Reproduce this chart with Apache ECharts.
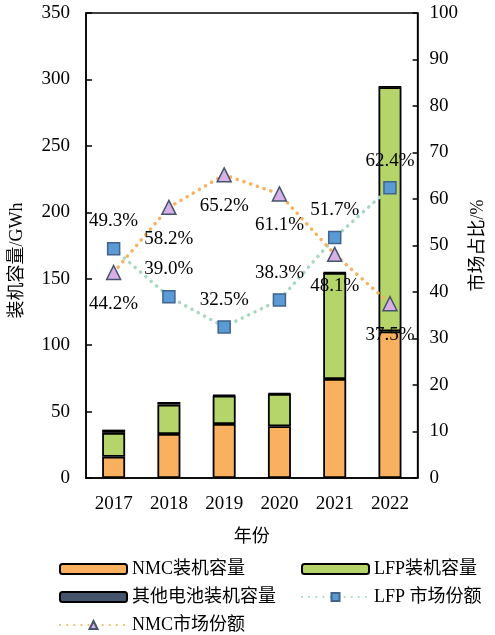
<!DOCTYPE html>
<html style="height: 100%">
 <head>
  <meta charset="utf-8" />
  <script src="https://cdn.jsdelivr.net/npm/echarts@6/dist/echarts.min.js"></script>
 </head>
 <body style="height: 100%; margin: 0; background:#fff">
  <div id="main" style="height:635px;width:495px;"></div>
  <script type="text/javascript">
   var years = ['2017', '2018', '2019', '2020', '2021', '2022'];
   var nmcCap = [16.0, 33.1, 40.6, 38.9, 74.5, 110.4];
   var lfpCap = [18.0, 22.1, 21.3, 24.4, 79.9, 183.8];
   var otherCap = [2.4, 2.0, 0.5, 0.5, 0.3, 0.3];
   var lfpShare = [49.3, 39.0, 32.5, 38.3, 51.7, 62.4];
   var nmcShare = [44.2, 58.2, 65.2, 61.1, 48.1, 37.5];

   var font = '"Liberation Serif", "Noto Sans CJK SC", serif';
   var myChart = echarts.init(document.getElementById('main'));

   function barSeries(name, data, color) {
     return {
       name: name,
       type: 'bar',
       stack: 'cap',
       barWidth: 23,
       data: data,
       itemStyle: { color: color, borderColor: '#000', borderWidth: 1.8 }
     };
   }
   function pctLabel(pos, dist) {
     return {
       show: true,
       position: pos,
       distance: dist,
       color: '#000',
       fontSize: 19,
       fontFamily: font,
       formatter: function (p) { return p.value.toFixed(1) + '%'; }
     };
   }
   function oneLegend(name, left, top) {
     return {
       data: [name],
       left: left,
       top: top,
       itemWidth: 67,
       itemHeight: 10,
       itemGap: 0,
       textStyle: { fontSize: 18, fontFamily: font, color: '#000' }
     };
   }

   var option = {
     animation: false,
     grid: {
       left: 83, right: 65, top: 13, bottom: 157,
       show: true, borderColor: '#000', borderWidth: 1.5
     },
     legend: [
       oneLegend('NMC装机容量', 54, 555),
       oneLegend('LFP装机容量', 296, 555),
       oneLegend('其他电池装机容量', 54, 583),
       oneLegend('LFP 市场份额', 296, 583),
       oneLegend('NMC市场份额', 54, 611)
     ],
     xAxis: {
       type: 'category',
       data: years,
       name: '年份',
       nameLocation: 'middle',
       nameGap: 50,
       nameTextStyle: { fontSize: 18, fontFamily: font, color: '#000' },
       axisLine: { lineStyle: { color: '#000', width: 1.5 } },
       axisTick: { show: false },
       axisLabel: { fontSize: 19, fontFamily: font, color: '#000', margin: 17 }
     },
     yAxis: [{
       type: 'value',
       min: 0, max: 350, interval: 50,
       name: '装机容量/GWh',
       nameLocation: 'middle',
       nameRotate: 90,
       nameGap: 60,
       nameTextStyle: { fontSize: 18, fontFamily: font, color: '#000', padding: [0, 30, 0, 0] },
       axisLine: { show: true, lineStyle: { color: '#000', width: 1.5 } },
       axisTick: { show: true, inside: true, length: 6, lineStyle: { color: '#000', width: 1.5 } },
       axisLabel: { fontSize: 19, fontFamily: font, color: '#000', margin: 16 },
       splitLine: { show: false }
     }, {
       type: 'value',
       min: 0, max: 100, interval: 10,
       name: '市场占比/%',
       nameLocation: 'middle',
       nameRotate: 90,
       nameGap: 50,
       nameTextStyle: { fontSize: 18, fontFamily: font, color: '#000' },
       axisLine: { show: true, lineStyle: { color: '#000', width: 1.5 } },
       axisTick: { show: true, inside: true, length: 5, lineStyle: { color: '#000', width: 1.5 } },
       axisLabel: { fontSize: 19, fontFamily: font, color: '#000', margin: 12 },
       splitLine: { show: false }
     }],
     series: [
       barSeries('NMC装机容量', nmcCap, '#F9B05F'),
       barSeries('LFP装机容量', lfpCap, '#B5D56A'),
       barSeries('其他电池装机容量', otherCap, '#44546A'),
       {
         name: 'LFP 市场份额',
         type: 'line',
         yAxisIndex: 1,
         data: lfpShare,
         symbol: 'rect',
         symbolSize: 12,
         z: 5,
         lineStyle: { color: '#A8D8C0', width: 3.5, type: [0.1, 7], cap: 'round' },
         itemStyle: { color: '#5B9BD5', borderColor: '#41638C', borderWidth: 1.5 },
         label: pctLabel('top', 11)
       },
       {
         name: 'NMC市场份额',
         type: 'line',
         yAxisIndex: 1,
         data: nmcShare,
         symbol: 'triangle',
         symbolSize: 14,
         z: 5,
         lineStyle: { color: '#F9B05F', width: 3.5, type: [0.1, 7], cap: 'round' },
         itemStyle: { color: '#D9B0E6', borderColor: '#44546A', borderWidth: 1.5 },
         label: pctLabel('bottom', 14)
       }
     ]
   };
   myChart.setOption(option);
  </script>
 </body>
</html>
